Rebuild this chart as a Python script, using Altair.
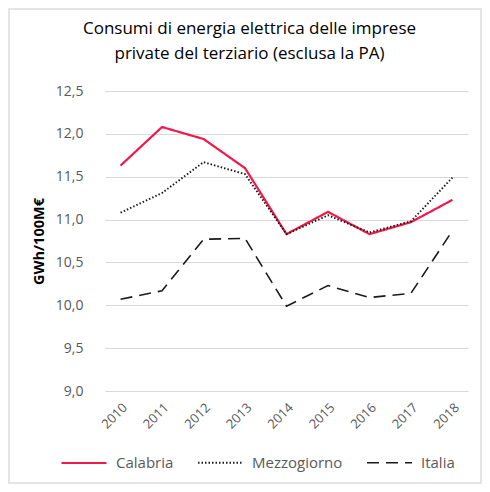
import altair as alt
import pandas as pd

years = ["2010", "2011", "2012", "2013", "2014", "2015", "2016", "2017", "2018"]
calabria = [11.63, 12.08, 11.94, 11.60, 10.83, 11.09, 10.83, 10.97, 11.23]
mezzogiorno = [11.08, 11.31, 11.67, 11.53, 10.83, 11.05, 10.85, 10.98, 11.49]
italia = [10.07, 10.17, 10.77, 10.78, 9.99, 10.23, 10.09, 10.14, 10.87]
series = ["Calabria", "Mezzogiorno", "Italia"]

rows = []
for name, vals in zip(series, [calabria, mezzogiorno, italia]):
    for y, v in zip(years, vals):
        rows.append({"anno": y, "valore": v, "serie": name})
df = pd.DataFrame(rows)

FONT = "Open Sans"
GRAY = "#595959"

legend_props = dict(title=None, orient="none", direction="horizontal",
                    legendX=-45, legendY=348,
                    symbolType="stroke", symbolSize=2025,
                    symbolStrokeWidth=2, labelFontSize=15,
                    labelColor=GRAY, labelFont=FONT,
                    columnPadding=20, labelOffset=8)

lines = alt.Chart(df).mark_line(strokeJoin="miter").encode(
    x=alt.X("anno:N", sort=years,
            scale=alt.Scale(type="point", padding=0.375),
            axis=alt.Axis(title=None, labelAngle=-45, labelFontSize=13, labelColor=GRAY,
                          labelFont=FONT, ticks=False, domain=False, grid=False,
                          labelPadding=10)),
    y=alt.Y("valore:Q",
            scale=alt.Scale(domain=[9.0, 12.5], nice=False, zero=False),
            axis=alt.Axis(title="GWh/100M€", titleFont=FONT, titleFontSize=14.5,
                          titleFontWeight="bold", titleColor="#000000",
                          values=[9.0, 9.5, 10.0, 10.5, 11.0, 11.5, 12.0, 12.5],
                          labelExpr="replace(format(datum.value, '.1f'), '.', ',')",
                          labelFontSize=14, labelColor=GRAY, labelFont=FONT,
                          ticks=False, domain=False, gridColor="#d9d9d9",
                          labelPadding=22, titlePadding=9)),
    color=alt.Color("serie:N",
                    scale=alt.Scale(domain=series, range=["#f0194a", "#1a1a1a", "#1a1a1a"]),
                    legend=alt.Legend(**legend_props)),
    strokeDash=alt.StrokeDash("serie:N",
                              scale=alt.Scale(domain=series, range=[[1, 0], [1.5, 2], [12, 7]]),
                              legend=alt.Legend(**legend_props)),
    strokeWidth=alt.StrokeWidth("serie:N",
                                scale=alt.Scale(domain=series, range=[2.2, 1.6, 2.5]),
                                legend=None),
)

frame = alt.Chart(pd.DataFrame({"k": [0]})).mark_rect(
    fill="#ffffff", fillOpacity=0, stroke="#dcdcdc", strokeWidth=1.5
).encode(
    x=alt.value(-96), x2=alt.value(376), y=alt.value(-82), y2=alt.value(392)
)

chart = alt.layer(frame, lines).properties(
    width=363, height=300,
    title=alt.TitleParams(
        ["Consumi di energia elettrica delle imprese", "private del terziario (esclusa la PA)"],
        font=FONT, fontSize=17, fontWeight="normal", color="#000000",
        anchor="middle", dx=-37, offset=-55, lineHeight=25),
    padding={"left": 97, "top": 83, "right": 14, "bottom": 93},
    autosize=alt.AutoSizeParams(type="none"),
).configure_view(stroke=None)

chart.save("out.html", embed_options={"renderer": "svg", "actions": False})
